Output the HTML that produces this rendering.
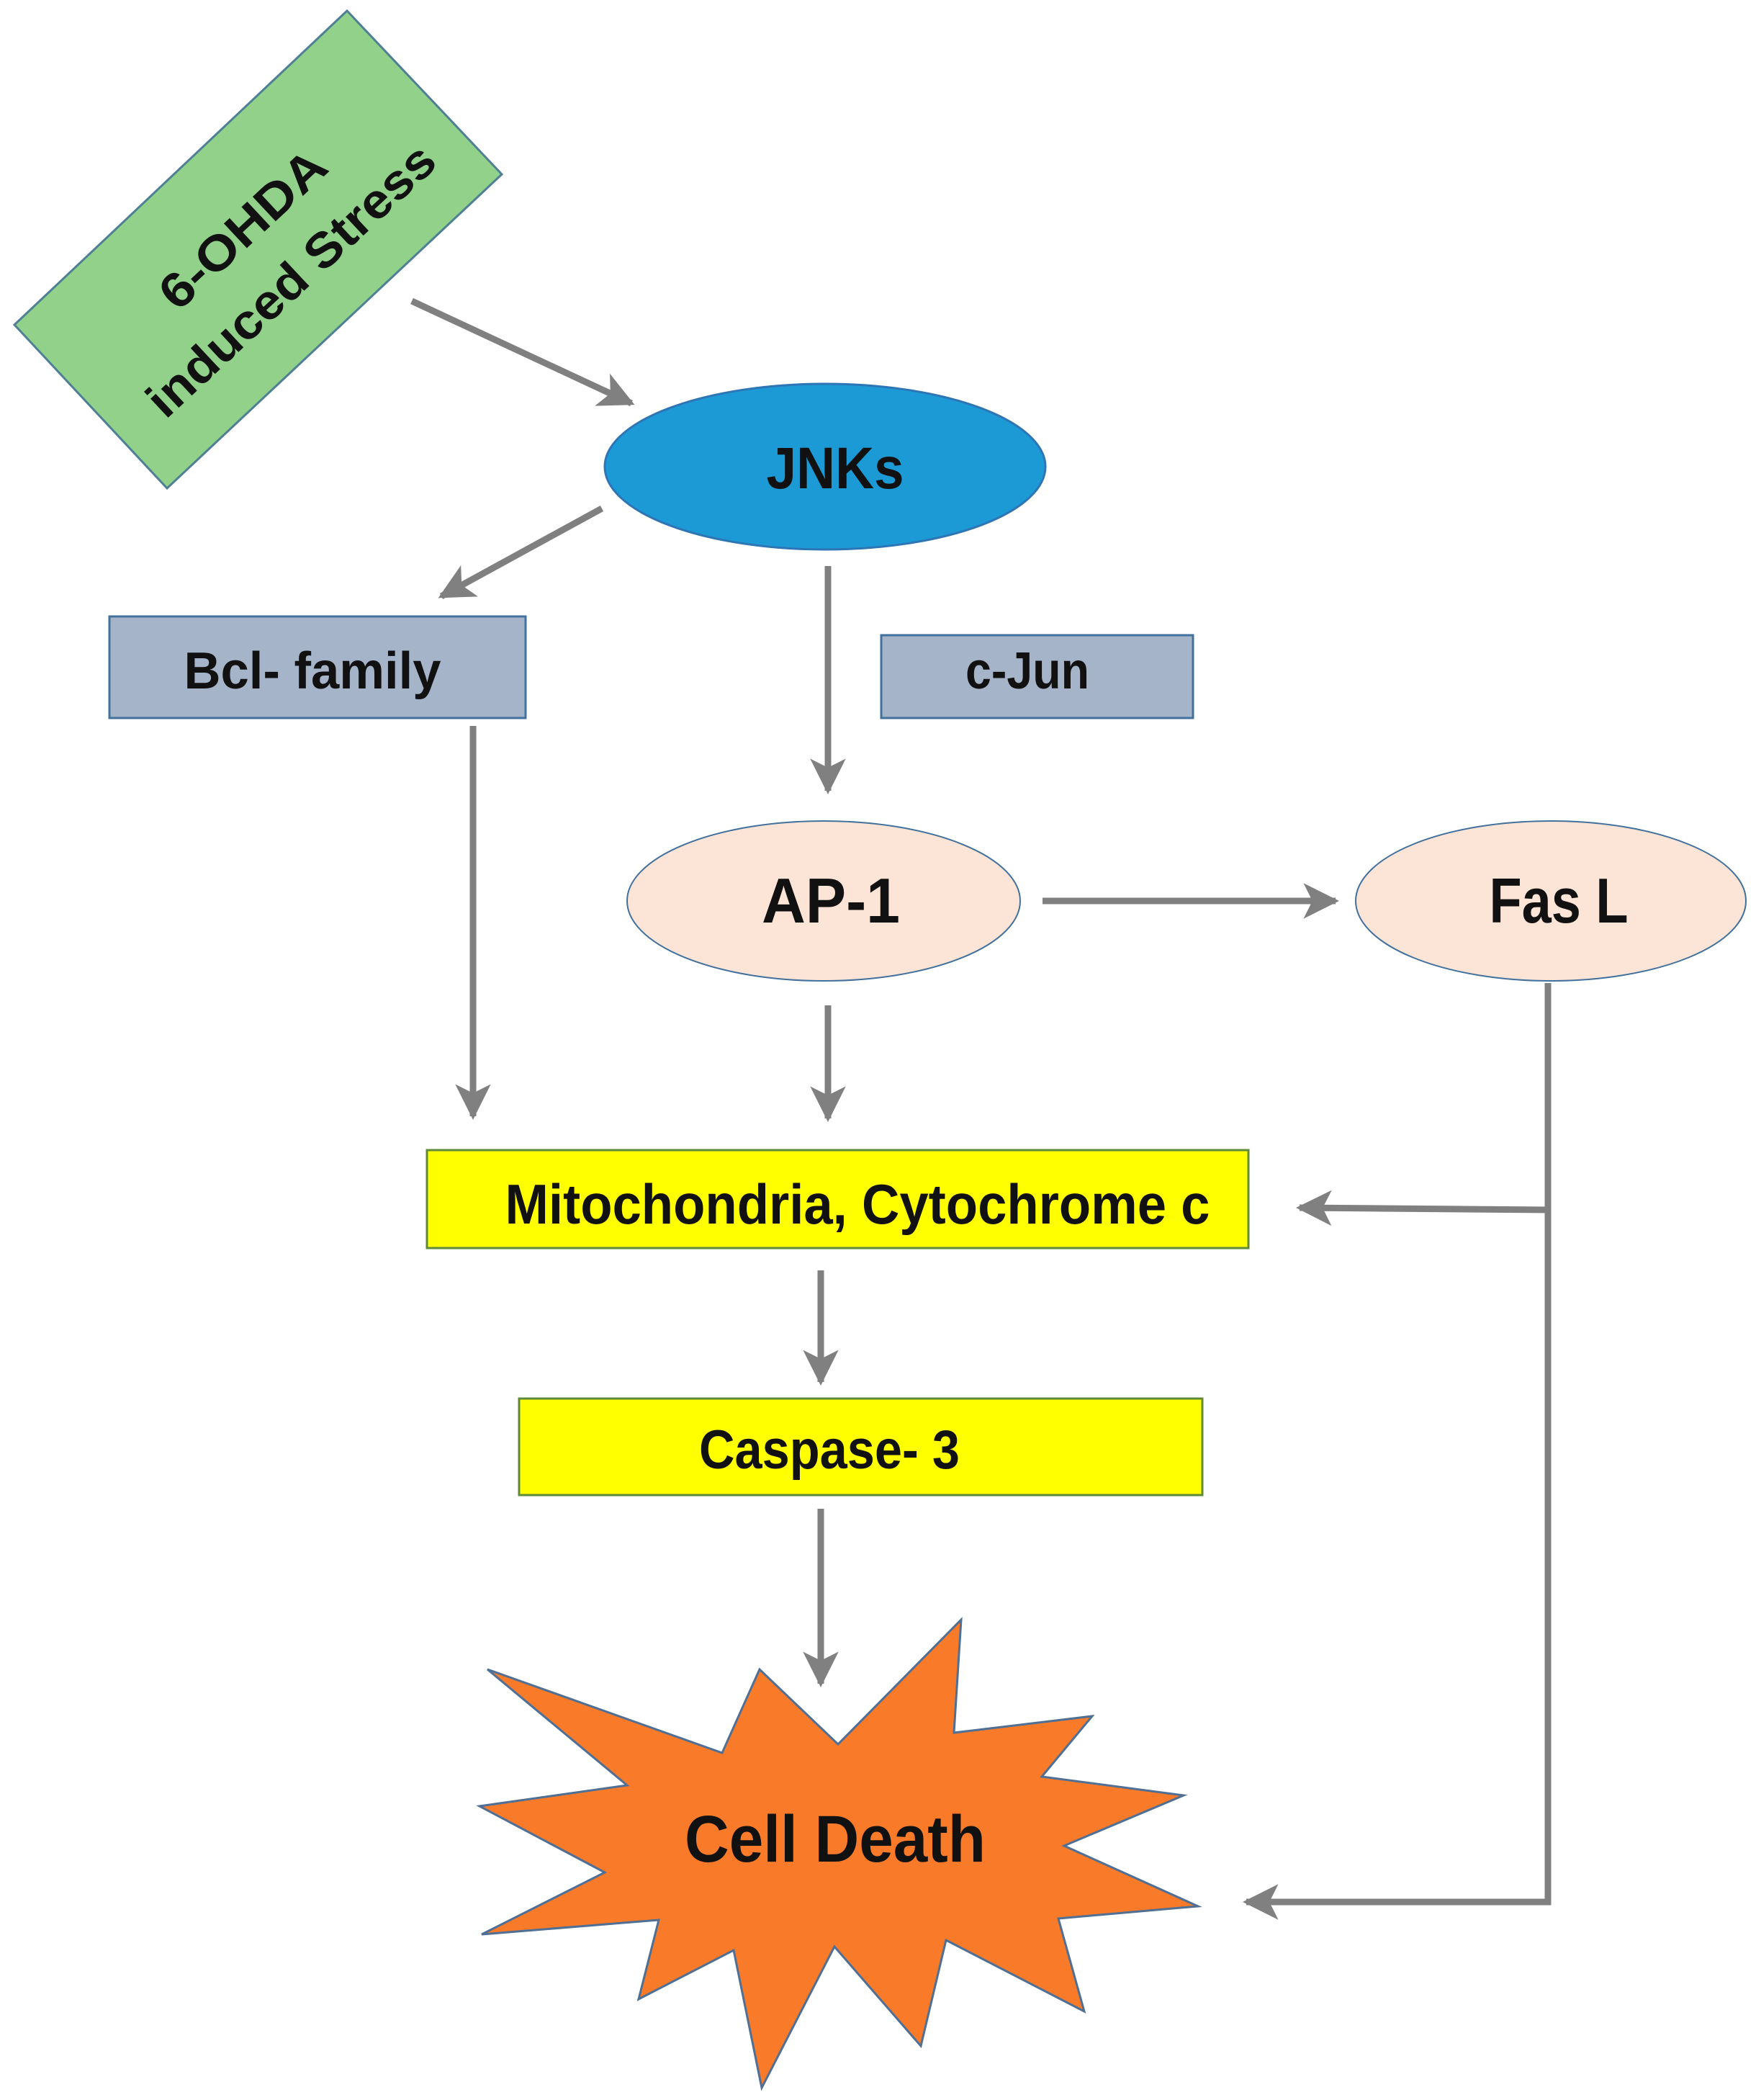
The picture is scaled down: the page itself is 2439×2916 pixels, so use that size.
<!DOCTYPE html>
<html><head><meta charset="utf-8"><style>
html,body{margin:0;padding:0;background:#fff;}
svg{display:block;}
text{font-family:"Liberation Sans Narrow","Liberation Sans",sans-serif;font-weight:bold;fill:#111;}
</style></head><body>
<svg width="2439" height="2916" viewBox="0 0 2439 2916" xmlns="http://www.w3.org/2000/svg">
<defs>
<marker id="ah" viewBox="0 0 10 10" refX="9" refY="5" markerWidth="5.5" markerHeight="5.5" markerUnits="strokeWidth" orient="auto">
<path d="M0,0 L10,5 L0,10 L2.5,5 z" fill="#808080"/>
</marker>
</defs>
<polygon points="20,451 482,15 697,242 232,678" fill="#92d18a" stroke="#4f7f95" stroke-width="3"/>
<g transform="translate(338,319) rotate(-43)">
<text x="0" y="22" font-size="68" text-anchor="middle" textLength="290" lengthAdjust="spacingAndGlyphs">6-OHDA</text>
</g>
<g transform="translate(405,390) rotate(-43)">
<text x="0" y="22" font-size="68" text-anchor="middle" textLength="520" lengthAdjust="spacingAndGlyphs">induced Stress</text>
</g>
<g stroke="#808080" stroke-width="9" fill="none" marker-end="url(#ah)">
<line x1="572" y1="418" x2="877" y2="560"/>
<line x1="836" y1="706" x2="613" y2="828"/>
<line x1="1150" y1="786" x2="1150" y2="1098"/>
<line x1="1448" y1="1251" x2="1855" y2="1251"/>
<line x1="657" y1="1008" x2="657" y2="1550"/>
<line x1="1150" y1="1396" x2="1150" y2="1553"/>
<line x1="1140" y1="1764" x2="1140" y2="1919"/>
<line x1="1140" y1="2095" x2="1140" y2="2338"/>
<polyline points="2150,1365 2150,1680 1805,1677"/>
<polyline points="2150,1680 2150,2641 1731,2641"/>
</g>
<ellipse cx="1146" cy="648" rx="306" ry="115" fill="#1c9ad6" stroke="#2e75b6" stroke-width="3"/>
<text x="1160" y="678" font-size="82" text-anchor="middle" textLength="191" lengthAdjust="spacingAndGlyphs">JNKs</text>
<rect x="152" y="856" width="578" height="141" fill="#a6b4c9" stroke="#41719c" stroke-width="3"/>
<text x="434" y="956" font-size="72" text-anchor="middle" textLength="357" lengthAdjust="spacingAndGlyphs">Bcl- family</text>
<rect x="1224" y="882" width="433" height="115" fill="#a6b4c9" stroke="#41719c" stroke-width="3"/>
<text x="1427" y="956" font-size="72" text-anchor="middle" textLength="172" lengthAdjust="spacingAndGlyphs">c-Jun</text>
<ellipse cx="1144" cy="1251" rx="273" ry="111" fill="#fce4d6" stroke="#41719c" stroke-width="2"/>
<text x="1154" y="1281" font-size="88" text-anchor="middle" textLength="192" lengthAdjust="spacingAndGlyphs">AP-1</text>
<ellipse cx="2154" cy="1251" rx="271" ry="111" fill="#fce4d6" stroke="#41719c" stroke-width="2"/>
<text x="2165" y="1281" font-size="88" text-anchor="middle" textLength="193" lengthAdjust="spacingAndGlyphs">Fas L</text>
<rect x="593" y="1597" width="1141" height="136" fill="#ffff00" stroke="#5f8a3a" stroke-width="3"/>
<text x="1191" y="1699" font-size="78" text-anchor="middle" textLength="979" lengthAdjust="spacingAndGlyphs">Mitochondria, Cytochrome c</text>
<rect x="721" y="1942" width="949" height="134" fill="#ffff00" stroke="#5f8a3a" stroke-width="3"/>
<text x="1152" y="2039" font-size="76" text-anchor="middle" textLength="362" lengthAdjust="spacingAndGlyphs">Caspase- 3</text>
<polygon points="677,2318 1003,2434 1055,2318 1164,2422 1335,2249 1325,2406 1517,2383 1447,2467 1644,2493 1478,2563 1664,2647 1470,2664 1506,2793 1314,2694 1279,2841 1159,2703 1058,2899 1019,2708 887,2776 915,2666 669,2686 840,2600 666,2508 871,2479" fill="#f97b2a" stroke="#4f6f95" stroke-width="3"/>
<text x="1160" y="2585" font-size="92" text-anchor="middle" textLength="418" lengthAdjust="spacingAndGlyphs">Cell Death</text>
</svg>
</body></html>
